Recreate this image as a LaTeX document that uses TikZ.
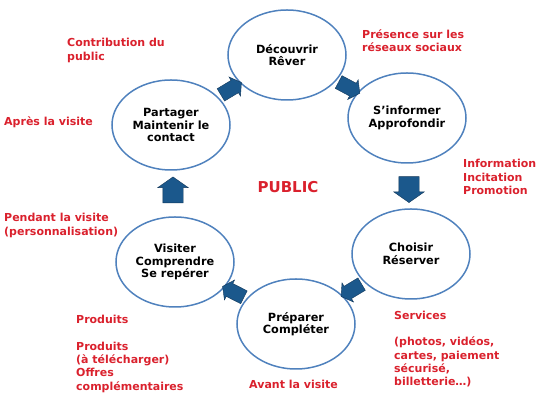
\documentclass[tikz,border=0pt]{standalone}
\usepackage{fontspec}
\setmainfont{DejaVu Sans}
\usetikzlibrary{shapes.geometric,shapes.arrows,calc}

\definecolor{ringblue}{RGB}{79,129,189}
\definecolor{arrowblue}{RGB}{27,88,140}
\definecolor{arrowedge}{RGB}{18,55,90}
\definecolor{notered}{RGB}{218,33,45}

\begin{document}
\begin{tikzpicture}[
  x=1pt, y=1pt,
  stage/.style={draw=ringblue, line width=1.5pt, ellipse, minimum width=118pt, minimum height=90pt, inner sep=0pt, align=center, font=\bfseries\fontsize{11.3}{12.6}\selectfont},
  note/.style={text=notered, align=left, anchor=west, inner sep=0pt, font=\bfseries\fontsize{11}{13.3}\selectfont},
  flow/.style={single arrow, draw=arrowedge, fill=arrowblue, line width=0.4pt, inner xsep=0pt, inner ysep=10pt, single arrow head extend=5pt, single arrow tip angle=110, single arrow head indent=0pt, minimum height=26pt},
  tilted/.style={flow, minimum height=24pt, inner ysep=7pt, single arrow head extend=4pt}
]
\useasboundingbox (0,0) rectangle (550,412);

% the six stages of the cycle
\node[stage] (decouvrir) at (287,357) {Découvrir\\Rêver};
\node[stage] (informer) at (407,294) {S’informer\\Approfondir};
\node[stage] (choisir) at (411,158) {Choisir\\Réserver};
\node[stage] (preparer) at (296,88) {Préparer\\Compléter};
\node[stage] (visiter) at (175,150) {Visiter\\Comprendre\\Se repérer};
\node[stage] (partager) at (171,287) {Partager\\Maintenir le\\contact};

% block arrows between the stages
\node[tilted, rotate=31] (toDecouvrir) at ($(partager)!0.5!(decouvrir)$) {};
\node[tilted, rotate=-28] (toInformer) at ($(decouvrir)!0.5!(informer)$) {};
\node[flow, rotate=-90] (toChoisir) at ($(informer)!0.5!(choisir)$) {};
\node[tilted, rotate=211] (toPreparer) at ($(choisir)!0.5!(preparer)$) {};
\node[tilted, rotate=153] (toVisiter) at ($(preparer)!0.5!(visiter)$) {};
\node[flow, rotate=90] (toPartager) at ($(visiter)!0.5!(partager)$) {};

\node[text=notered, font=\bfseries\fontsize{15}{18}\selectfont] (public) at (288,225) {PUBLIC};

% red notes
\node[note] (contribution) at (67,361.5) {Contribution du\\public};
\node[note] (reseaux) at (362,371) {Présence sur les\\réseaux sociaux};
\node[note] (apres) at (4,290) {Après la visite};
\node[note] (promotion) at (463,235) {Information\\Incitation\\Promotion};
\node[note] (pendant) at (4,186.5) {Pendant la visite\\(personnalisation)};
\node[note] (produits) at (76,58) {Produits\\[13.3pt]Produits\\(à télécharger)\\Offres\\complémentaires};
\node[note] (services) at (394,63) {Services\\[13.3pt](photos, vidéos,\\cartes, paiement\\sécurisé,\\billetterie…)};
\node[note] (avant) at (249,28) {Avant la visite};

\end{tikzpicture}
\end{document}
